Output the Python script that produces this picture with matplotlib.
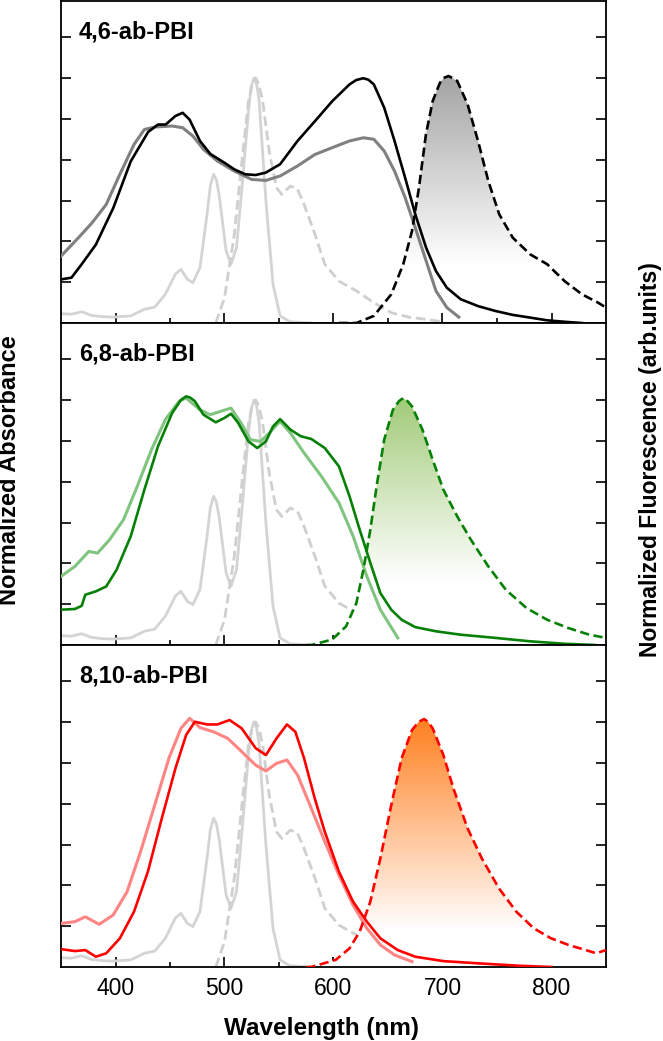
import numpy as np
import matplotlib
matplotlib.use('Agg')
import matplotlib.pyplot as plt
import matplotlib.colors as mcolors
from matplotlib.patches import Polygon
from matplotlib.ticker import FixedLocator

plt.rcParams['font.family'] = ['Liberation Sans', 'DejaVu Sans']

# ---------------- data ----------------
panel_names = ['4,6-ab-PBI', '6,8-ab-PBI', '8,10-ab-PBI']

# reference dye (light gray), same in every panel
ref_abs_wl = [350, 359.6, 369, 378, 388, 398, 414, 426.5, 436, 445.7, 455, 460, 466, 471, 477.5,
              484, 487, 490, 492.5, 495, 501.5, 506, 511, 516, 522, 524.5, 527, 529.5, 531.8, 538,
              544.5, 551, 560, 580]
ref_abs_v = [0.038, 0.036, 0.046, 0.031, 0.026, 0.024, 0.029, 0.056, 0.065, 0.117, 0.2, 0.219, 0.178,
             0.165, 0.226, 0.444, 0.56, 0.607, 0.585, 0.525, 0.294, 0.24, 0.307, 0.552, 0.865, 0.965,
             1.0, 0.975, 0.906, 0.498, 0.158, 0.029, 0.005, 0.0]
ref_fl_wl = [492, 500, 509, 516, 522, 525.5, 528.6, 531.5, 535, 541, 547.7, 552.5, 560.5, 567, 573,
             583, 592, 605, 621, 637, 653, 669, 685, 700]
ref_fl_v = [0.0, 0.103, 0.362, 0.661, 0.906, 0.975, 1.0, 0.975, 0.906, 0.702, 0.552, 0.525, 0.559,
            0.546, 0.484, 0.362, 0.24, 0.171, 0.131, 0.083, 0.042, 0.024, 0.015, 0.005]

# 4,6-ab-PBI
p1_sol_wl = [350, 359.6, 369, 382, 398, 414, 430, 439, 446, 455, 461.6, 468, 477.5, 487, 500, 509, 519,
             528.6, 538, 551, 567, 583, 599, 614.7, 621, 627.4, 632, 637, 646.5, 656, 665.7, 675, 685,
             694, 704, 716.7, 732.6, 748.6, 764.5, 780.5, 796, 812, 828]
p1_sol_v = [0.178, 0.185, 0.24, 0.32, 0.47, 0.66, 0.78, 0.81, 0.81, 0.845, 0.858, 0.83, 0.743, 0.69,
            0.654, 0.627, 0.607, 0.604, 0.614, 0.648, 0.743, 0.824, 0.906, 0.974, 0.992, 0.999, 0.993,
            0.974, 0.879, 0.743, 0.593, 0.444, 0.307, 0.212, 0.144, 0.097, 0.069, 0.049, 0.033, 0.022,
            0.011, 0.005, 0.0]
p1_film_wl = [350, 366, 378.7, 391.5, 404, 417, 426.5, 436, 452, 461.6, 471, 480.7, 493.5, 509, 525,
              538, 551, 567, 583, 599, 614.7, 627.4, 637, 646.5, 656, 665.7, 675, 685, 694, 704, 715]
p1_film_v = [0.273, 0.348, 0.41, 0.484, 0.607, 0.729, 0.79, 0.8, 0.804, 0.797, 0.763, 0.709, 0.661,
             0.62, 0.586, 0.582, 0.6, 0.641, 0.688, 0.716, 0.743, 0.756, 0.75, 0.702, 0.62, 0.512,
             0.389, 0.253, 0.131, 0.063, 0.024]
p1_fl_wl = [605, 621, 637, 653, 664, 672, 678.4, 684.8, 691, 697.6, 701, 705.5, 709, 713.5, 723, 732.6,
            742, 752, 764.5, 780.5, 796, 812, 828, 842.7, 850]
p1_fl_v = [0.0, 0.0, 0.029, 0.117, 0.24, 0.375, 0.552, 0.77, 0.906, 0.98, 1.0, 1.008, 1.0, 0.988,
           0.893, 0.743, 0.58, 0.444, 0.348, 0.28, 0.24, 0.171, 0.117, 0.083, 0.063]

# 6,8-ab-PBI
p2_sol_wl = [350, 362.8, 369, 372.3, 382, 391.5, 401, 414, 426.5, 439, 452, 460, 464.8, 468.5, 472.8,
             480.7, 492, 500, 506, 512.6, 522, 530, 538, 544.5, 551, 560.5, 570, 579.6, 592, 605,
             614.7, 624, 633.8, 643, 653, 662.5, 675, 694, 716.7, 748.6, 780.5, 812, 840]
p2_sol_v = [0.144, 0.147, 0.16, 0.205, 0.219, 0.239, 0.307, 0.444, 0.634, 0.811, 0.947, 1.0, 1.015,
            1.01, 0.995, 0.94, 0.909, 0.927, 0.944, 0.906, 0.831, 0.804, 0.831, 0.892, 0.922, 0.879,
            0.852, 0.841, 0.804, 0.729, 0.607, 0.471, 0.335, 0.212, 0.144, 0.103, 0.073, 0.056, 0.042,
            0.029, 0.015, 0.005, 0.0]
p2_film_wl = [350, 362.8, 375.5, 383.5, 394.6, 407.4, 420, 433, 445.7, 458.4, 464.8, 477.5, 487, 496.7,
              506, 516, 523.8, 533, 541, 551, 560.5, 573, 589, 605, 618, 630.6, 643, 659]
p2_film_v = [0.28, 0.321, 0.382, 0.375, 0.43, 0.512, 0.648, 0.797, 0.92, 0.995, 1.008, 0.96, 0.94,
             0.954, 0.967, 0.9, 0.838, 0.831, 0.865, 0.913, 0.865, 0.784, 0.688, 0.58, 0.444, 0.28,
             0.144, 0.029]
p2_fl_wl = [575, 579.6, 598.7, 611.5, 621, 627.4, 633.8, 640, 646.5, 654.5, 660, 664, 668, 672, 681.6,
            691, 700.8, 713.5, 726, 742, 758, 777, 796, 815.6, 834.7, 850]
p2_fl_v = [0.0, 0.0, 0.022, 0.076, 0.171, 0.307, 0.471, 0.661, 0.838, 0.96, 0.995, 1.008, 0.995, 0.974,
           0.879, 0.756, 0.634, 0.525, 0.43, 0.321, 0.226, 0.151, 0.103, 0.069, 0.042, 0.029]

# 8,10-ab-PBI
p3_sol_wl = [350, 362.8, 372.3, 382, 391.5, 404, 417, 429.7, 442.5, 455, 464.8, 472.8, 484, 493.5,
             504.7, 515.8, 528.6, 538, 547.7, 557.3, 565, 573, 582.8, 592, 605, 617.9, 630.6, 643, 659,
             675, 700.8, 732.6, 771, 800]
p3_sol_v = [0.073, 0.065, 0.069, 0.042, 0.056, 0.117, 0.226, 0.389, 0.607, 0.811, 0.947, 1.001, 0.99,
            0.99, 1.008, 0.974, 0.893, 0.865, 0.933, 0.99, 0.96, 0.852, 0.688, 0.552, 0.389, 0.267,
            0.185, 0.117, 0.069, 0.042, 0.024, 0.015, 0.005, 0.0]
p3_film_wl = [350, 362.8, 372.3, 385, 397.8, 410.6, 423, 436, 449, 460, 468, 477.5, 490, 503, 515.8,
              528.6, 538, 547.7, 557.3, 567, 579.6, 592, 605, 617.9, 630.6, 643, 656, 672]
p3_film_v = [0.178, 0.185, 0.205, 0.174, 0.212, 0.307, 0.471, 0.661, 0.852, 0.974, 1.015, 0.977, 0.96,
             0.933, 0.879, 0.824, 0.8, 0.831, 0.845, 0.784, 0.648, 0.512, 0.375, 0.253, 0.158, 0.09,
             0.049, 0.022]
p3_fl_wl = [575, 579.6, 602, 614.7, 624, 633.8, 643, 653, 662.5, 672, 678, 683, 687, 691, 700.8, 710,
            723, 736, 751.8, 767.7, 783.7, 799.6, 815.6, 831.5, 841, 850]
p3_fl_v = [0.0, 0.0, 0.029, 0.076, 0.144, 0.267, 0.444, 0.661, 0.852, 0.967, 1.0, 1.012, 1.0, 0.974,
           0.865, 0.729, 0.566, 0.444, 0.321, 0.226, 0.158, 0.117, 0.09, 0.069, 0.056, 0.069]

sol_wls = [p1_sol_wl, p2_sol_wl, p3_sol_wl]
sol_vs = [p1_sol_v, p2_sol_v, p3_sol_v]
film_wls = [p1_film_wl, p2_film_wl, p3_film_wl]
film_vs = [p1_film_v, p2_film_v, p3_film_v]
fl_wls = [p1_fl_wl, p2_fl_wl, p3_fl_wl]
fl_vs = [p1_fl_v, p2_fl_v, p3_fl_v]

sol_colors = ['#000000', '#068006', '#ff0000']
film_colors = ['#808080', '#80c480', '#ff8484']
fill_colors = ['#a4a4a4', '#a2cb78', '#ff8020']
fill_white = [0.24, 0.26, 0.15]
ref_abs_color = '#d4d4d4'
ref_fl_color = '#cfcfcf'

# ---------------- figure ----------------
W, H = 663, 1041
fig = plt.figure(figsize=(W / 100, H / 100), dpi=100)

left = 61 / W
width = (606 - 61) / W
panel_top_px = [1, 323, 645]
panel_h_px = 322
YMAX = 322 / 245.0


def gradient_fill(ax, wl, v, color, v_white, zorder):
    wl = np.asarray(wl, float)
    v = np.asarray(v, float)
    verts = np.column_stack([np.r_[wl[0], wl, wl[-1]], np.r_[0, v, 0]])
    poly = Polygon(verts, closed=True, facecolor='none', edgecolor='none')
    ax.add_patch(poly)
    top = v.max()
    ys = np.linspace(0, top, 400)
    frac = np.clip((ys - v_white) / (top - v_white), 0, 1)
    c = np.array(mcolors.to_rgb(color))
    img = (1 - frac)[:, None] * np.ones(3) + frac[:, None] * c
    img = img[:, None, :]
    im = ax.imshow(img, extent=[wl.min(), wl.max(), 0, top], origin='lower',
                   aspect='auto', zorder=zorder, interpolation='bilinear')
    im.set_clip_path(poly)


axes = []
for i in range(3):
    bottom = 1 - (panel_top_px[i] + panel_h_px) / H
    ax = fig.add_axes([left, bottom, width, panel_h_px / H])
    axes.append(ax)

    fill_z = 1 if i == 0 else 2.5
    ax.plot(ref_abs_wl, ref_abs_v, color=ref_abs_color, lw=2.0, zorder=2, solid_joinstyle='round')
    ax.plot(ref_fl_wl, ref_fl_v, color=ref_fl_color, lw=2.0, ls=(0, (3.5, 1.7)), zorder=2)
    gradient_fill(ax, fl_wls[i], fl_vs[i], fill_colors[i], fill_white[i], fill_z)
    ax.plot(film_wls[i], film_vs[i], color=film_colors[i], lw=2.2, zorder=3, solid_joinstyle='round')
    ax.plot(sol_wls[i], sol_vs[i], color=sol_colors[i], lw=1.9, zorder=4, solid_joinstyle='round')
    ax.plot(fl_wls[i], fl_vs[i], color=sol_colors[i], lw=1.9, ls=(0, (3.5, 1.7)), zorder=4)

    ax.set_xlim(350, 850)
    ax.set_ylim(0, YMAX)
    ax.xaxis.set_major_locator(FixedLocator([400, 500, 600, 700, 800]))
    ax.xaxis.set_minor_locator(FixedLocator([450, 550, 650, 750]))
    ax.yaxis.set_major_locator(FixedLocator(np.arange(1, 8) / 6))
    ax.tick_params(axis='both', which='major', direction='in', length=7, width=1.2,
                   left=True, right=True, top=False, labelleft=False, labelsize=16.5, pad=7)
    ax.tick_params(axis='x', which='minor', direction='in', length=3.5, width=1.2, top=False)
    if i < 2:
        ax.tick_params(axis='x', labelbottom=False)
    for s in ax.spines.values():
        s.set_linewidth(1.3)
    ax.text(18 / 545, 1 - 31 / 322, panel_names[i], transform=ax.transAxes,
            fontsize=17, fontweight='bold', ha='left', va='center')

fig.text(10 / W, 1 - 470 / H, 'Normalized Absorbance', rotation=90, fontsize=17,
         fontweight='bold', ha='center', va='center')
fig.text(651 / W, 1 - 460 / H, 'Normalized Fluorescence (arb.units)', rotation=90, fontsize=16.5,
         fontweight='bold', ha='center', va='center')
fig.text(322 / W, 1 - 1028 / H, 'Wavelength (nm)', fontsize=17.5, fontweight='bold',
         ha='center', va='center')

fig.savefig('out.png', dpi=100)
